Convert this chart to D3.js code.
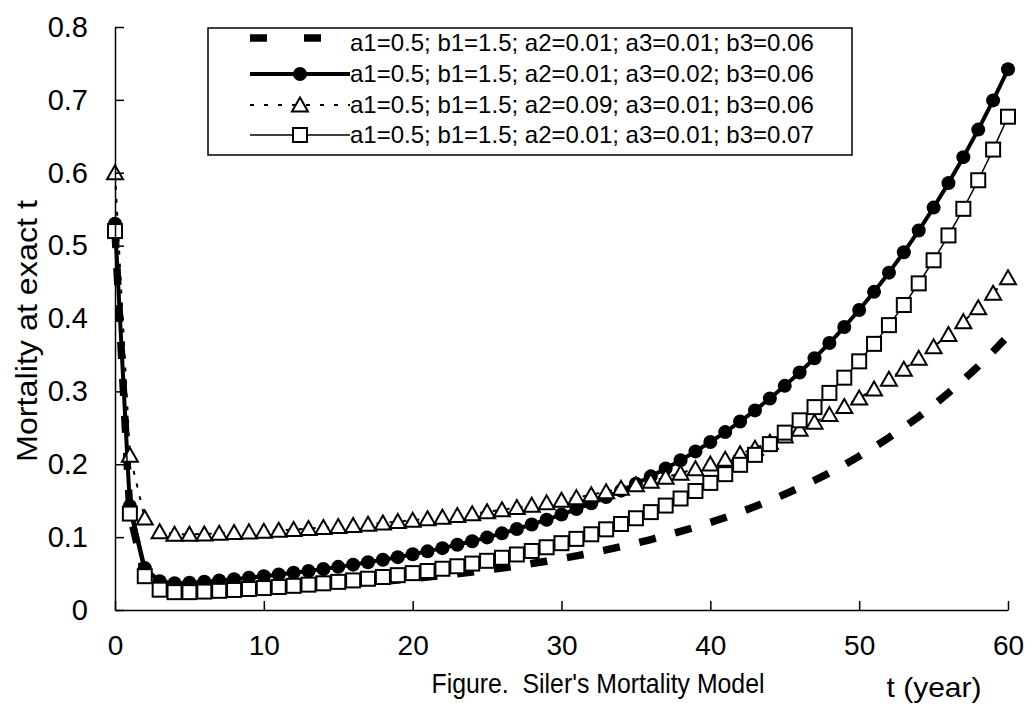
<!DOCTYPE html>
<html>
<head>
<meta charset="utf-8">
<script src="https://cdn.jsdelivr.net/npm/d3@7"></script>
<style>
  body { margin: 0; background: #fff; }
  text { fill: #000; }
</style>
</head>
<body>
<script>
const years = [0, 1, 2, 3, 4, 5, 6, 7, 8, 9, 10, 11, 12, 13, 14, 15, 16, 17, 18, 19, 20,
  21, 22, 23, 24, 25, 26, 27, 28, 29, 30, 31, 32, 33, 34, 35, 36, 37, 38, 39, 40,
  41, 42, 43, 44, 45, 46, 47, 48, 49, 50, 51, 52, 53, 54, 55, 56, 57, 58, 59, 60];

// a1=0.5; b1=1.5; a2=0.01; a3=0.01; b3=0.06
const seriesA = [0.520, 0.1322, 0.0462, 0.0275, 0.0240, 0.0238, 0.0244, 0.0252, 0.0262, 0.0272, 0.0282,
  0.0293, 0.0305, 0.0318, 0.0332, 0.0346, 0.0361, 0.0377, 0.0394, 0.0413, 0.0432,
  0.0453, 0.0474, 0.0497, 0.0522, 0.0548, 0.0576, 0.0605, 0.0637, 0.0670, 0.0705,
  0.0742, 0.0782, 0.0824, 0.0869, 0.0917, 0.0967, 0.1021, 0.1078, 0.1138, 0.1202,
  0.1270, 0.1343, 0.1420, 0.1501, 0.1588, 0.1680, 0.1778, 0.1881, 0.1992, 0.2109,
  0.2233, 0.2365, 0.2505, 0.2653, 0.2811, 0.2979, 0.3157, 0.3346, 0.3547, 0.3760];

// a1=0.5; b1=1.5; a2=0.01; a3=0.02; b3=0.06
const seriesB = [0.530, 0.1428, 0.0575, 0.0395, 0.0367, 0.0373, 0.0387, 0.0404, 0.0423, 0.0443, 0.0464,
  0.0487, 0.0511, 0.0536, 0.0563, 0.0592, 0.0622, 0.0655, 0.0689, 0.0725, 0.0764,
  0.0805, 0.0849, 0.0895, 0.0944, 0.0996, 0.1052, 0.1111, 0.1173, 0.1239, 0.1310,
  0.1385, 0.1464, 0.1549, 0.1638, 0.1733, 0.1834, 0.1941, 0.2055, 0.2176, 0.2305,
  0.2441, 0.2586, 0.2739, 0.2903, 0.3076, 0.3260, 0.3455, 0.3663, 0.3883, 0.4117,
  0.4366, 0.4629, 0.4909, 0.5207, 0.5522, 0.5858, 0.6214, 0.6592, 0.6993, 0.7420];

// a1=0.5; b1=1.5; a2=0.09; a3=0.01; b3=0.06
const seriesC = [0.600, 0.2122, 0.1262, 0.1075, 0.1040, 0.1038, 0.1044, 0.1052, 0.1062, 0.1072, 0.1082,
  0.1093, 0.1105, 0.1118, 0.1132, 0.1146, 0.1161, 0.1177, 0.1194, 0.1213, 0.1232,
  0.1253, 0.1274, 0.1297, 0.1322, 0.1348, 0.1376, 0.1405, 0.1437, 0.1470, 0.1505,
  0.1542, 0.1582, 0.1624, 0.1669, 0.1717, 0.1767, 0.1821, 0.1878, 0.1938, 0.2002,
  0.2070, 0.2143, 0.2220, 0.2301, 0.2388, 0.2480, 0.2578, 0.2681, 0.2792, 0.2909,
  0.3033, 0.3165, 0.3305, 0.3453, 0.3611, 0.3779, 0.3957, 0.4146, 0.4347, 0.4560];

// a1=0.5; b1=1.5; a2=0.01; a3=0.01; b3=0.07
const seriesD = [0.520, 0.1323, 0.0464, 0.0279, 0.0245, 0.0245, 0.0253, 0.0263, 0.0275, 0.0288, 0.0301,
  0.0316, 0.0332, 0.0348, 0.0366, 0.0386, 0.0406, 0.0429, 0.0453, 0.0478, 0.0506,
  0.0535, 0.0566, 0.0600, 0.0637, 0.0675, 0.0717, 0.0762, 0.0810, 0.0861, 0.0917,
  0.0976, 0.1039, 0.1107, 0.1180, 0.1259, 0.1343, 0.1433, 0.1530, 0.1633, 0.1744,
  0.1864, 0.1992, 0.2129, 0.2276, 0.2434, 0.2603, 0.2784, 0.2979, 0.3188, 0.3412,
  0.3652, 0.3909, 0.4185, 0.4482, 0.4799, 0.5140, 0.5505, 0.5897, 0.6318, 0.6769];

const legendLabels = [
  'a1=0.5; b1=1.5; a2=0.01; a3=0.01; b3=0.06',
  'a1=0.5; b1=1.5; a2=0.01; a3=0.02; b3=0.06',
  'a1=0.5; b1=1.5; a2=0.09; a3=0.01; b3=0.06',
  'a1=0.5; b1=1.5; a2=0.01; a3=0.01; b3=0.07'
];

const xTicks = [0, 10, 20, 30, 40, 50, 60];
const yTicks = [0, 0.1, 0.2, 0.3, 0.4, 0.5, 0.6, 0.7, 0.8];

const width = 1032;
const height = 714;
const font = '"Liberation Sans", Arial, sans-serif';

const svg = d3.select('body').append('svg')
  .attr('width', width)
  .attr('height', height);

const x = d3.scaleLinear().domain([0, 60]).range([115, 1008]);
const y = d3.scaleLinear().domain([0, 0.8]).range([610, 27]);

// one style per series, drawn in the original order
const series = [
  { values: seriesA, width: 7.5, dash: '17,20', marker: null, legendDash: '17,37' },
  { values: seriesB, width: 4, dash: null, marker: 'circle' },
  { values: seriesC, width: 2, dash: '4,9', marker: 'triangle', legendDash: '4,10' },
  { values: seriesD, width: 1.5, dash: null, marker: 'square' }
];

const line = d3.line()
  .x((d, i) => x(years[i]))
  .y(d => y(d));

function drawMarker(sel, type) {
  if (type === 'circle') {
    sel.append('circle').attr('r', 7).attr('fill', '#000');
  } else if (type === 'triangle') {
    sel.append('path')
      .attr('d', 'M0,-7.5 L8,6.5 L-8,6.5 Z')
      .attr('fill', '#fff').attr('stroke', '#000').attr('stroke-width', 2);
  } else if (type === 'square') {
    sel.append('rect')
      .attr('x', -7).attr('y', -7).attr('width', 14).attr('height', 14)
      .attr('fill', '#fff').attr('stroke', '#000').attr('stroke-width', 2);
  }
}

const plot = svg.append('g');

series.forEach(s => {
  const g = plot.append('g');
  g.append('path')
    .attr('d', line(s.values))
    .attr('fill', 'none')
    .attr('stroke', '#000')
    .attr('stroke-width', s.width)
    .attr('stroke-dasharray', s.dash)
    .attr('stroke-linejoin', 'round');
  if (s.marker) {
    g.selectAll('.m')
      .data(s.values)
      .enter()
      .append('g')
      .attr('class', 'm')
      .attr('transform', (d, i) => `translate(${x(years[i])},${y(d)})`)
      .each(function() { drawMarker(d3.select(this), s.marker); });
  }
});

// axes, ticks point inward
const xAxis = svg.append('g')
  .attr('transform', `translate(0,${y(0)})`)
  .call(d3.axisBottom(x).tickValues(xTicks).tickSizeInner(-9).tickSizeOuter(0).tickPadding(25));
xAxis.select('.domain').attr('stroke-width', 1.5);
xAxis.selectAll('line').attr('stroke-width', 1.5);
xAxis.selectAll('text')
  .style('font-family', font)
  .style('font-size', '28px');

const yAxis = svg.append('g')
  .attr('transform', `translate(${x(0)},0)`)
  .call(d3.axisLeft(y).tickValues(yTicks).tickSizeInner(-9).tickSizeOuter(0).tickPadding(27)
    .tickFormat(d => d === 0 ? '0' : d3.format('.1f')(d)));
yAxis.select('.domain').attr('stroke-width', 1.5);
yAxis.selectAll('line').attr('stroke-width', 1.5);
yAxis.selectAll('text')
  .style('font-family', font)
  .style('font-size', '29px');

// axis titles
svg.append('text')
  .attr('transform', 'translate(37,331) rotate(-90)')
  .attr('text-anchor', 'middle')
  .attr('textLength', 262)
  .attr('lengthAdjust', 'spacingAndGlyphs')
  .style('font-family', font)
  .style('font-size', '30px')
  .text('Mortality at exact t');

svg.append('text')
  .attr('x', 598).attr('y', 693)
  .attr('text-anchor', 'middle')
  .attr('textLength', 333)
  .attr('lengthAdjust', 'spacingAndGlyphs')
  .attr('xml:space', 'preserve')
  .style('font-family', font)
  .style('font-size', '28px')
  .text("Figure.  Siler's Mortality Model");

svg.append('text')
  .attr('x', 934).attr('y', 697)
  .attr('text-anchor', 'middle')
  .attr('textLength', 95)
  .attr('lengthAdjust', 'spacingAndGlyphs')
  .style('font-family', font)
  .style('font-size', '28px')
  .text('t (year)');

// legend
const legend = svg.append('g');
legend.append('rect')
  .attr('x', 208).attr('y', 28)
  .attr('width', 644).attr('height', 127)
  .attr('fill', '#fff')
  .attr('stroke', '#000')
  .attr('stroke-width', 1.5);

const rowY = [43, 74, 105, 135];
series.forEach((s, i) => {
  const g = legend.append('g').attr('transform', `translate(0,${rowY[i]})`);
  g.append('line')
    .attr('x1', 250).attr('x2', 350)
    .attr('y1', i === 0 ? -5 : 0).attr('y2', i === 0 ? -5 : 0)
    .attr('stroke', '#000')
    .attr('stroke-width', s.width)
    .attr('stroke-dasharray', s.legendDash || null);
  if (s.marker) {
    const m = g.append('g').attr('transform', 'translate(300,0)');
    drawMarker(m, s.marker);
  }
  g.append('text')
    .attr('x', 350).attr('y', 8)
    .style('font-family', font)
    .style('font-size', '24px')
    .text(legendLabels[i]);
});
</script>
</body>
</html>
